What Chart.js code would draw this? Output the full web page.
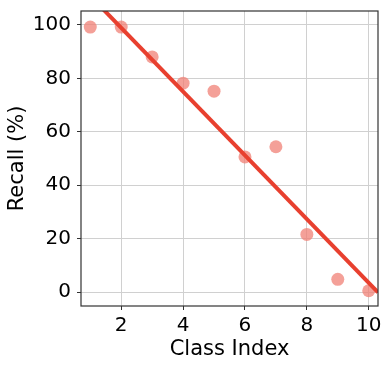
<!DOCTYPE html>
<html>
<head>
<meta charset="utf-8">
<script src="https://cdn.jsdelivr.net/npm/chart.js@4/dist/chart.umd.min.js"></script>
<style>
  html, body { margin: 0; padding: 0; background: #fff; }
  #wrap { width: 390px; height: 368px; }
</style>
</head>
<body>
<div id="wrap"><canvas id="chart"></canvas></div>
<script>
const classIndex = [1, 2, 3, 4, 5, 6, 7, 8, 9, 10];
const recall = [99.2, 99.2, 88, 78.2, 75.2, 50.6, 54.4, 21.6, 4.8, 0.5];
// least-squares fit line, end points at the axis limits
const fitX = [0.7, 10.3];
const fitY = [114.4, -0.1];
const xTicks = [2, 4, 6, 8, 10];
const yTicks = [0, 20, 40, 60, 80, 100];

const FONT = "'DejaVu Sans', sans-serif";

const frame = {
  id: "frame",
  afterDraw(chart) {
    const { ctx, chartArea: a } = chart;
    ctx.save();
    ctx.strokeStyle = "#333";
    ctx.lineWidth = 1.2;
    ctx.strokeRect(a.left, a.top, a.right - a.left, a.bottom - a.top);
    ctx.restore();
  },
};

const ctx = document.getElementById("chart").getContext("2d");
new Chart(ctx, {
  type: "scatter",
  data: {
    datasets: [
      {
        data: classIndex.map((x, i) => ({ x: x, y: recall[i] })),
        backgroundColor: "rgba(240,128,118,0.75)",
        borderWidth: 0,
        pointRadius: 6.5,
        order: 2,
      },
      {
        type: "line",
        data: fitX.map((x, i) => ({ x: x, y: fitY[i] })),
        borderColor: "#e8402f",
        borderWidth: 4,
        pointRadius: 0,
        fill: false,
        order: 1,
      },
    ],
  },
  options: {
    responsive: true,
    maintainAspectRatio: false,
    animation: false,
    layout: { padding: { top: 11, right: 12, left: 0, bottom: 6 } },
    plugins: { legend: { display: false }, tooltip: { enabled: false } },
    scales: {
      x: {
        type: "linear",
        min: 0.7,
        max: 10.3,
        afterBuildTicks: (s) => { s.ticks = xTicks.map((v) => ({ value: v })); },
        ticks: { font: { family: FONT, size: 20 }, color: "#000", padding: 4 },
        grid: { color: "#d0d0d0", lineWidth: 1, tickLength: 4, tickColor: "#333" },
        border: { display: false },
        title: { display: true, text: "Class Index", font: { family: FONT, size: 21 }, color: "#000", padding: { top: 0, bottom: 0 } },
        afterFit: (s) => { s.height = 56; s.paddingLeft = 0; s.paddingRight = 0; },
      },
      y: {
        min: -5.2,
        max: 105.2,
        afterBuildTicks: (s) => { s.ticks = yTicks.map((v) => ({ value: v })); },
        ticks: { font: { family: FONT, size: 20 }, color: "#000", padding: 6 },
        grid: { color: "#d0d0d0", lineWidth: 1, tickLength: 4, tickColor: "#333" },
        border: { display: false },
        title: { display: true, text: "Recall (%)", font: { family: FONT, size: 21 }, color: "#000", padding: { top: 5, bottom: 0 } },
        afterFit: (s) => { s.width = 81; s.paddingTop = 0; s.paddingBottom = 0; },
      },
    },
  },
  plugins: [frame],
});
</script>
</body>
</html>
